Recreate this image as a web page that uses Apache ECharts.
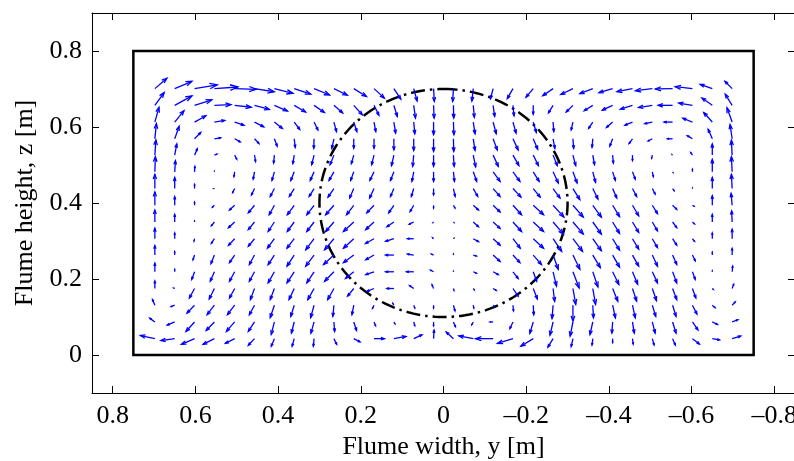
<!DOCTYPE html>
<html><head><meta charset="utf-8">
<script src="https://cdn.jsdelivr.net/npm/echarts@6/dist/echarts.min.js"></script>
<style>html,body{margin:0;padding:0;background:#fff}#c{width:794px;height:461px}</style>
</head><body><div id="c"></div>
<script>
// Tick labels
const yTicks = [0.8, 0.6, 0.4, 0.2, 0, -0.2, -0.4, -0.6, -0.8];
const zTicks = [0, 0.2, 0.4, 0.6, 0.8];
// Flume outline and cylinder
const flumeY = [0.75, -0.75];
const flumeZ = [0, 0.8];
const cylCenter = [0, 0.4];
const cylRadius = 0.3;
// Measurement grid
const ys = [0.698,0.650,0.602,0.554,0.505,0.457,0.409,0.361,0.313,0.265,0.217,0.168,0.120,0.072,0.024,
            -0.024,-0.072,-0.120,-0.168,-0.217,-0.265,-0.313,-0.361,-0.409,-0.457,-0.505,-0.554,-0.602,-0.650,-0.698];
const zs = [0.701,0.657,0.613,0.569,0.526,0.482,0.438,0.394,0.350,0.306,0.263,0.219,0.175,0.131,0.087,0.043];
// Velocity components (y-direction, z-direction), rows = zs, cols = ys
const vY = [
[-11.7,-16.7,-22,-22.7,-21,-19,-18,-16,-15,-13,-12.3,-10,-6.7,-3.3,-0.7,0.7,1.3,2.5,5.5,7,10,11.7,12.5,13.3,15,16.3,16.7,16.7,11.7,7],
[-9,-16.7,-16.7,-16,-16,-14.3,-12.7,-11,-10,-8.5,-8.3,-4.7,-3.3,-1.7,-0.5,-0.3,-1,-1.5,-1,0,4.5,6.5,8.3,10,11.7,13.3,14,13.3,10,6.7],
[-4,-9,-11,-10,-9,-9,-7.7,-5.3,-3.7,-2.5,-3,-1.7,-1.7,-1,0,-0.5,-1.7,-3,-3,-3,-0.7,1.7,4,6,7.3,7.3,8.3,9.3,8.3,5],
[-1.5,-4.3,-6,-6,-5.3,-4.3,-2.7,-1,0.3,2,0,0,0,0,0,-0.3,-1.7,-4,-5,-4.3,-1.7,-0.7,0.7,2.7,3.3,4,5,5,4,2],
[-1,-2,-2.7,-2.5,-2,-1,0.7,1.3,2.3,3.7,2.3,2.3,2.3,1,0,-0.7,-2.3,-5,-5.7,-5,-4,-2.7,-1.7,-0.7,0,0.7,0.5,1.7,0,0.7],
[-0.5,-0.7,-0.3,0,0.7,1.3,2.3,3.3,3.7,4.7,3,4,3.3,1.7,0,-1,-3.3,-6.7,-6.7,-5.7,-5,-4,-2.7,-2.7,-2.7,-1,-0.3,0,0,0.7],
[0,0,0,0.5,2,3,4,4.7,4.7,5.7,4,4.3,3.3,2.3,0,-1.7,-4.3,-6.7,-7.7,-6.7,-6.7,-6.7,-5,-4,-4,-2.7,-1.5,0,0,0.7],
[0,0,0,2,5,6,5,6.7,7,8,7,7,5,3.5,0,-1.5,-5,-6.7,-8.3,-10,-10.5,-10,-8.3,-6.7,-6,-5,-4,-1.5,0,1],
[0,0,0,3,6,6,6,6.7,7,8,10,8,6.7,4.3,0.5,-0.5,-5,-6.7,-8.3,-10,-10,-10,-8.3,-6.7,-6,-5,-4,-2,0,0.5],
[0,0,0.5,3,6,6,6.7,7,8,9,10,8.3,8,6,1,-0.5,-5,-6.7,-7,-10,-8.3,-9.3,-8.3,-6.7,-6,-5,-4,-2,0,0],
[0,0,1.5,3.3,5,5,6,7,8,10,10,8,8,6,2,0,-3,-6.7,-6.7,-8,-5,-6.7,-7.3,-6.7,-6,-5,-4,-2.7,0,0],
[0,0,2.7,4,5,5,6,7,7,9,8,8,8,7,3,0,-3,-5,-5,-3.3,-3.3,-6,-5,-6,-5,-5,-4,-2.7,0,-0.5],
[0,1,5,5,5,4,4,5,6,6,6,6.7,6.7,4,1.5,-0.5,-1,-3,-5,-4,-1.5,-2.7,-2.7,-5,-4,-4,-4,-3.3,-1,-1.5],
[2.3,3.5,7.3,7,7,5,4,3.3,3.3,1,1.7,1.5,1,-1,0,-1.5,-0.5,-1.5,-0.5,-0.5,1,0,-0.7,-2.7,-2.7,-3.3,-3.3,-4.3,-2.7,-3],
[5,7.3,8.3,8,8,6,3,2.7,3,-0.7,-2.7,-1.5,-1,-1,0,-2,1.5,3,3,3.3,3,2.7,2.7,0.7,-1.7,-2.7,-3.3,-5.3,-5,-5.5],
[14,13.3,12.7,11,9,6,3,2,0.7,-2.7,-6,-10,-11.7,-8,-0.5,7,14,17,15,12,5,1.7,0.7,0,-0.7,-1.7,-2.7,-6.7,-7,-8.3]
];
const vZ = [
[11,7.7,4,1.7,-0.7,-3.3,-5,-5.7,-6.7,-7,-8.3,-10,-11,-13,-13.3,-13.3,-13,-10.5,-10.5,-9,-7.5,-6.2,-5.3,-4.2,-3.2,-2.2,-0.3,2,4.5,7.7],
[13.5,10,5.7,0.7,-2,-4.3,-6,-7,-7.5,-8,-10,-10.5,-11.7,-13.3,-13.3,-13.3,-12.5,-11.7,-11,-9.5,-8,-7,-5.7,-5,-4,-2.3,0,2.3,7.7,11.7],
[15.5,12,6.7,1.7,-3.3,-5,-6.7,-7.7,-8.3,-10,-10,-10,-11.7,-12.3,-13.3,-13.3,-12.3,-12.3,-11.7,-11,-10,-8.3,-6.7,-5.7,-3.3,-1.7,0,4,10,15],
[16,13,6.7,1,-3.3,-5,-7.7,-9,-10,-10,-10,-10,-11.7,-12.3,-13.3,-13.3,-12.3,-11.7,-11.7,-11,-10,-10,-9,-7.7,-5,-2.3,0,3.3,10,15],
[16,11.7,6.7,1,-4.3,-6.7,-8.3,-9,-10,-10,-9,-10,-11,-11.7,-11.7,-11.7,-12.3,-11.7,-11,-11,-11,-11,-10,-8.3,-5.7,-3.3,0.5,2.7,11.7,15.7],
[16,11.7,5.7,0.5,-5,-7.7,-9,-9,-9,-9,-9,-9,-9,-10,-10,-10,-10,-10,-10,-10,-11.7,-11.7,-11,-9,-7.7,-5,-0.5,2.7,13,16],
[15,11.7,4.3,0,-4.3,-6.7,-8.3,-8.3,-8.3,-9,-10,-10,-8.3,-8.3,-6.7,-8.3,-8.3,-8.3,-9,-9,-10,-11.7,-11,-10,-8.3,-5.7,-2.3,0.5,11.7,15],
[14,9,3.3,-2,-5,-8,-10,-10,-10,-10,-10,-8,-8,-6.7,-3,-3,-5,-7,-10,-10,-12.5,-12.5,-12.5,-12,-11,-8.7,-4.3,-1,10,12.5],
[12.5,8,1,-4,-6,-8,-10,-10,-10,-10,-10,-8,-5,-2.3,-0.5,-0.5,-5,-6.7,-10,-10,-12.7,-12.7,-12.7,-12,-11,-9.3,-6,-2,8,11.7],
[11,6,-2.5,-5,-7,-8,-10,-10,-11.7,-11.7,-10,-5,-2.7,0,1,0.5,-3,-6.7,-10,-10,-13.3,-13.3,-12.7,-12,-11,-9.3,-6.7,-2.7,6,10],
[10,3.5,-5,-9,-8,-10,-10,-11.7,-11.7,-10,-8,-5,0,1,1,1,-1,-6.7,-8,-10,-15,-15,-13.3,-12.7,-11.7,-11.7,-10,-6,3,7],
[9,2.5,-8,-10,-10,-10,-11.7,-11.7,-11.7,-10,-7,-3,0,0,1.7,0.5,-1.5,-3,-7,-10,-15,-17,-16,-13.3,-13,-11.7,-11.7,-8,1,6],
[8,0.5,-10,-11,-10,-11.7,-11.7,-11.7,-11.7,-11.7,-8,-3,0,3,4,-2,-1.5,-2,-8,-11,-13.5,-16.7,-16.7,-13.3,-13.3,-12.7,-11.7,-10,-1,4.5],
[6,-1.5,-8.3,-10,-10,-10,-13,-11.7,-13,-11.7,-10,-3.3,2,-3,-3,-6,-3,-1.5,-6,-10,-14,-16.7,-13.3,-13.3,-13.3,-11.7,-11.7,-9.3,-2.7,3.5],
[4,-3.3,-10,-9,-10,-10,-13,-11.7,-11.7,-10,-9,-4,-2,-4,-4,-5,-3,0,-7,-12,-14,-15,-13.3,-11.7,-11.7,-11.7,-11.7,-8.3,-2.7,2.3],
[3.3,-2,-6,-6,-5,-7,-8,-8,-8,-6,-3.3,0,2.3,4,9,7,3,0,-5,-8,-9,-8.3,-6.7,-4,-5.7,-6.7,-6.7,-5.7,-1.3,2.7]
];
const QUIVER_SCALE = 0.0025; // m of arrow per velocity unit

const arrowData = [];
for (let i = 0; i < zs.length; i++) {
  for (let j = 0; j < ys.length; j++) {
    arrowData.push([ys[j], zs[i], vY[i][j], vZ[i][j]]);
  }
}
const rectData = [
  [flumeY[0], flumeZ[0]], [flumeY[0], flumeZ[1]], [flumeY[1], flumeZ[1]],
  [flumeY[1], flumeZ[0]], [flumeY[0], flumeZ[0]]
];

const FONT = "'Liberation Serif','Times New Roman',serif";
const FS = 26;
function fmt(v) {
  const r = Math.round(v * 10) / 10;
  if (r === 0) return '0';
  return (r < 0 ? '\u2013' : '') + Math.abs(r).toString();
}
const common = {
  type: 'value',
  splitLine: {show: false},
  axisLine: {show: true, onZero: false, lineStyle: {color: '#000', width: 1}},
};
const chart = echarts.init(document.getElementById('c'), null, {renderer: 'canvas'});
chart.setOption({
  animation: false,
  backgroundColor: '#fff',
  grid: {left: 92, right: -1, top: 13, bottom: 68, containLabel: false, outerBoundsMode: 'none'},
  xAxis: [
    Object.assign({}, common, {
      min: -0.85, max: 0.85, inverse: true, position: 'bottom',
      axisTick: {show: true, inside: true, length: 7, customValues: yTicks, lineStyle: {color: '#000'}},
      axisLabel: {show: true, customValues: yTicks, formatter: fmt, margin: 10, hideOverlap: false,
        fontSize: FS, fontFamily: FONT, color: '#000'},
      name: 'Flume width, y [m]', nameLocation: 'middle', nameGap: 40,
      nameTextStyle: {fontSize: FS, fontFamily: FONT, color: '#000'}
    }),
    Object.assign({}, common, {
      min: -0.85, max: 0.85, inverse: true, position: 'top',
      axisTick: {show: true, inside: true, length: 7, customValues: yTicks, lineStyle: {color: '#000'}},
      axisLabel: {show: false}
    })
  ],
  yAxis: [
    Object.assign({}, common, {
      min: -0.1, max: 0.9, position: 'left',
      axisTick: {show: true, inside: true, length: 7, customValues: zTicks, lineStyle: {color: '#000'}},
      axisLabel: {show: true, customValues: zTicks, formatter: fmt, margin: 10,
        fontSize: FS, fontFamily: FONT, color: '#000'},
      name: 'Flume height, z [m]', nameLocation: 'middle', nameGap: 53,
      nameTextStyle: {fontSize: FS, fontFamily: FONT, color: '#000'}
    }),
    Object.assign({}, common, {
      min: -0.1, max: 0.9, position: 'right',
      axisTick: {show: true, inside: true, length: 7, customValues: zTicks, lineStyle: {color: '#000'}},
      axisLabel: {show: false}
    })
  ],
  series: [
    {
      type: 'line', data: rectData, xAxisIndex: 0, yAxisIndex: 0,
      symbol: 'none', silent: true,
      lineStyle: {color: '#000', width: 2.5, join: 'miter', cap: 'square'}
    },
    {
      type: 'custom', xAxisIndex: 0, yAxisIndex: 0, silent: true,
      data: [[cylCenter[0], cylCenter[1], cylRadius]],
      renderItem: function (params, api) {
        const cy = api.value(0), cz = api.value(1), r = api.value(2);
        const pts = [];
        for (let a = 90; a <= 450; a += 2) {
          const t = a * Math.PI / 180;
          pts.push(api.coord([cy + r * Math.cos(t), cz + r * Math.sin(t)]));
        }
        return {type: 'polyline', shape: {points: pts},
          style: {stroke: '#000', fill: null, lineWidth: 2.5, lineDash: [14, 5, 2.5, 5]}};
      }
    },
    {
      type: 'custom', xAxisIndex: 0, yAxisIndex: 0, silent: true,
      data: arrowData,
      renderItem: function (params, api) {
        const y = api.value(0), z = api.value(1), u = api.value(2), w = api.value(3);
        const p0 = api.coord([y, z]);
        const p1 = api.coord([y + u * QUIVER_SCALE, z + w * QUIVER_SCALE]);
        const dx = p1[0] - p0[0], dy = p1[1] - p0[1];
        const a = 0.33, b = 0.36;
        const h1 = [p1[0] - a * (dx + b * dy), p1[1] - a * (dy - b * dx)];
        const h2 = [p1[0] - a * (dx - b * dy), p1[1] - a * (dy + b * dx)];
        const st = {stroke: '#0000ff', fill: null, lineWidth: 1.3};
        return {type: 'group', children: [
          {type: 'line', shape: {x1: p0[0], y1: p0[1], x2: p1[0], y2: p1[1]}, style: st},
          {type: 'polyline', shape: {points: [h1, p1, h2]}, style: st}
        ]};
      }
    }
  ]
});
</script></body></html>
